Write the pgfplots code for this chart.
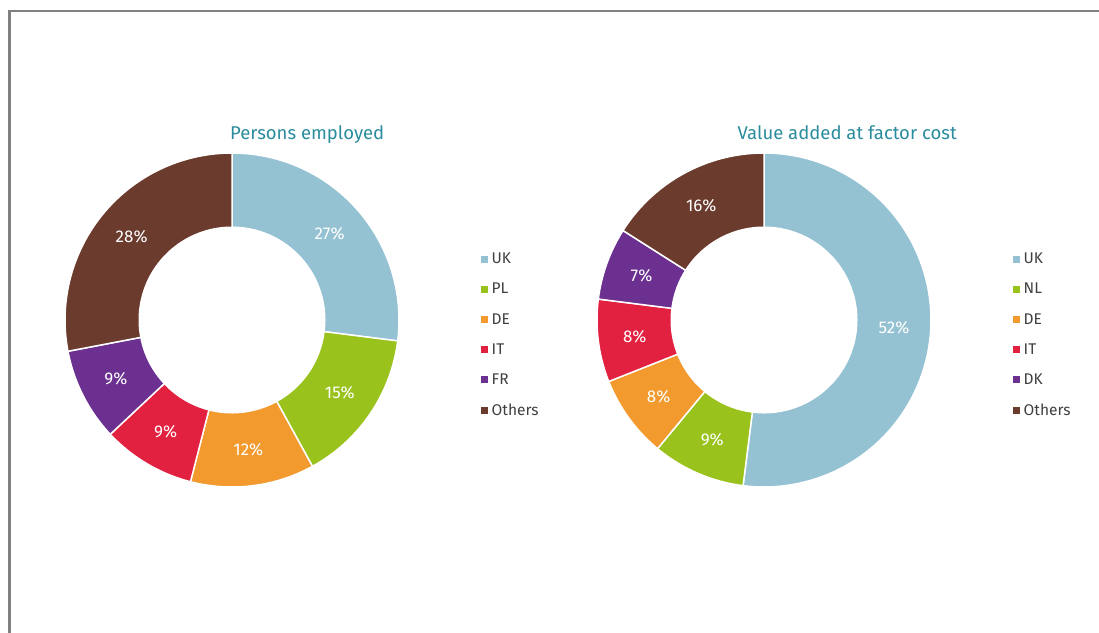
\documentclass[border=0pt]{standalone}
\usepackage{fontspec}
\setmainfont{Fira Sans}
\usepackage{pgfplots}
\pgfplotsset{compat=1.18}

\definecolor{cUK}{HTML}{95C2D2}
\definecolor{cPL}{HTML}{99C21C}
\definecolor{cDE}{HTML}{F29A2E}
\definecolor{cIT}{HTML}{E2203F}
\definecolor{cFR}{HTML}{6B3090}
\definecolor{cOT}{HTML}{6B3B2E}
\definecolor{titleteal}{HTML}{2A8C9C}
\definecolor{legtext}{HTML}{404040}
\definecolor{frame}{HTML}{808080}

% slice: #1 share before this one (%), #2 share (%), #3 colour
\newcommand{\slice}[3]{%
  \addplot[fill=#3, draw=white, line width=1.5pt, samples=90,
    domain=90-3.6*(#1+#2):90-3.6*#1]
    ({cos(x)}, {sin(x)}) -- (axis cs:0,0) -- cycle;
}
% label at mid share #1 (%), text #2
\newcommand{\plabel}[2]{%
  \node[text=white, font=\fontsize{17}{19}\selectfont]
    at (axis cs:{0.78*cos(90-3.6*(#1))},{0.78*sin(90-3.6*(#1))}) {#2\%};
}
\newcommand{\hole}{%
  \addplot[fill=white, draw=none, domain=0:360, samples=150, forget plot]
    ({0.56*cos(x)}, {0.56*sin(x)}) -- cycle;
}

\pgfplotsset{
  legend image code/.code={\fill[#1, draw=none] (0pt,-3.5pt) rectangle (7pt,3.5pt);},
  donut/.style={
    hide axis, clip=false,
    x=167pt, y=167pt, xmin=-1, xmax=1, ymin=-1, ymax=1,
    anchor=center,
    title style={font=\fontsize{18.5}{20}\selectfont, text=titleteal, anchor=base, yshift=0pt},
    legend cell align=left,
    legend style={draw=none, fill=none, at={(1.235,0.455)}, anchor=west,
      font=\fontsize{15.5}{17}\selectfont, text=legtext, row sep=14pt,
      /tikz/every odd column/.append style={column sep=2pt}},
  },
}

\begin{document}
\begin{tikzpicture}
\useasboundingbox (0,0) rectangle (1099pt,632pt);
\draw[frame, line width=2.5pt] (9.5pt,-2pt) -- (9.5pt,621pt) -- (1101pt,621pt);

\begin{axis}[donut, at={(232pt,312pt)},
  title={Persons employed}, title style={at={(0.725,1.021)}}]
  \slice{0}{27}{cUK}  \addlegendentry{UK}
  \slice{27}{15}{cPL} \addlegendentry{PL}
  \slice{42}{12}{cDE} \addlegendentry{DE}
  \slice{54}{9}{cIT}  \addlegendentry{IT}
  \slice{63}{9}{cFR}  \addlegendentry{FR}
  \slice{72}{28}{cOT} \addlegendentry{Others}
  \hole
  \plabel{13.5}{27}
  \plabel{34.5}{15}
  \plabel{48}{12}
  \plabel{58.5}{9}
  \plabel{67.5}{9}
  \plabel{86}{28}
\end{axis}

\begin{axis}[donut, at={(764pt,312pt)},
  title={Value added at factor cost}, title style={at={(0.749,1.021)}}]
  \slice{0}{52}{cUK}  \addlegendentry{UK}
  \slice{52}{9}{cPL}  \addlegendentry{NL}
  \slice{61}{8}{cDE}  \addlegendentry{DE}
  \slice{69}{8}{cIT}  \addlegendentry{IT}
  \slice{77}{7}{cFR}  \addlegendentry{DK}
  \slice{84}{16}{cOT} \addlegendentry{Others}
  \hole
  \plabel{26}{52}
  \plabel{56.5}{9}
  \plabel{65}{8}
  \plabel{73}{8}
  \plabel{80.5}{7}
  \plabel{92}{16}
\end{axis}
\end{tikzpicture}
\end{document}
